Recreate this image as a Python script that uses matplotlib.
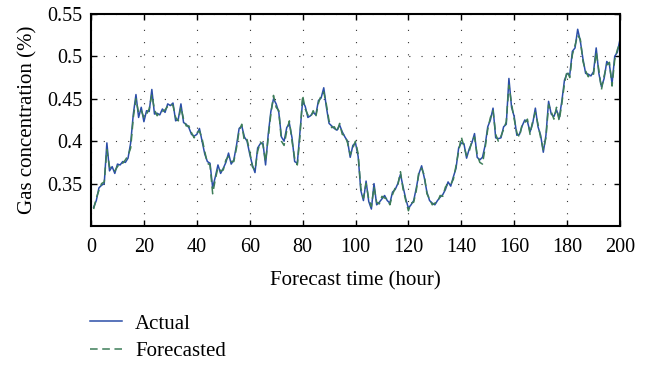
import matplotlib
matplotlib.use("Agg")
import matplotlib.pyplot as plt
import numpy as np

hours = list(range(1, 201))

actual = [
    0.322, 0.330, 0.345, 0.348, 0.350, 0.398, 0.365, 0.370, 0.362, 0.373,
    0.372, 0.376, 0.375, 0.380, 0.398, 0.432, 0.455, 0.428, 0.440, 0.423,
    0.436, 0.435, 0.461, 0.432, 0.433, 0.431, 0.438, 0.434, 0.444, 0.442,
    0.445, 0.424, 0.426, 0.444, 0.422, 0.420, 0.416, 0.408, 0.406, 0.408,
    0.415, 0.400, 0.385, 0.376, 0.374, 0.345, 0.358, 0.372, 0.362, 0.368,
    0.375, 0.386, 0.373, 0.378, 0.395, 0.415, 0.418, 0.405, 0.400, 0.385,
    0.372, 0.363, 0.392, 0.397, 0.398, 0.372, 0.408, 0.435, 0.450, 0.444,
    0.434, 0.405, 0.400, 0.416, 0.421, 0.404, 0.376, 0.374, 0.410, 0.447,
    0.441, 0.428, 0.430, 0.434, 0.431, 0.448, 0.451, 0.463, 0.440, 0.421,
    0.418, 0.415, 0.413, 0.419, 0.411, 0.405, 0.400, 0.381, 0.395, 0.398,
    0.382, 0.342, 0.330, 0.353, 0.329, 0.320, 0.350, 0.325, 0.328, 0.332,
    0.336, 0.330, 0.327, 0.340, 0.343, 0.350, 0.361, 0.346, 0.332, 0.321,
    0.325, 0.330, 0.345, 0.362, 0.371, 0.357, 0.340, 0.330, 0.327, 0.325,
    0.330, 0.334, 0.337, 0.343, 0.352, 0.347, 0.358, 0.368, 0.392, 0.398,
    0.397, 0.380, 0.391, 0.398, 0.409, 0.381, 0.378, 0.381, 0.395, 0.417,
    0.425, 0.439, 0.404, 0.403, 0.404, 0.417, 0.420, 0.474, 0.440, 0.429,
    0.407, 0.408, 0.418, 0.425, 0.423, 0.411, 0.421, 0.439, 0.417, 0.407,
    0.387, 0.407, 0.447, 0.432, 0.429, 0.437, 0.427, 0.447, 0.472, 0.480,
    0.478, 0.506, 0.510, 0.532, 0.518, 0.497, 0.480, 0.479, 0.477, 0.482,
    0.510, 0.480, 0.464, 0.474, 0.494, 0.490, 0.468, 0.500, 0.505, 0.520,
]

forecasted = [
    0.320, 0.333, 0.342, 0.350, 0.352, 0.390, 0.370, 0.366, 0.365, 0.370,
    0.374, 0.374, 0.378, 0.383, 0.392, 0.428, 0.450, 0.433, 0.436, 0.428,
    0.432, 0.438, 0.455, 0.437, 0.430, 0.434, 0.435, 0.437, 0.441, 0.444,
    0.442, 0.428, 0.424, 0.440, 0.426, 0.418, 0.418, 0.410, 0.404, 0.410,
    0.412, 0.403, 0.388, 0.374, 0.372, 0.338, 0.355, 0.369, 0.365, 0.366,
    0.378, 0.382, 0.376, 0.376, 0.392, 0.412, 0.420, 0.400, 0.402, 0.388,
    0.370, 0.366, 0.388, 0.399, 0.396, 0.376, 0.404, 0.432, 0.454, 0.440,
    0.436, 0.400, 0.395, 0.412, 0.424, 0.400, 0.380, 0.372, 0.406, 0.454,
    0.438, 0.431, 0.428, 0.436, 0.429, 0.445, 0.454, 0.458, 0.443, 0.424,
    0.416, 0.417, 0.411, 0.421, 0.408, 0.407, 0.398, 0.384, 0.392, 0.400,
    0.385, 0.345, 0.333, 0.350, 0.332, 0.323, 0.346, 0.328, 0.326, 0.335,
    0.333, 0.332, 0.325, 0.337, 0.345, 0.348, 0.364, 0.343, 0.330, 0.318,
    0.327, 0.328, 0.342, 0.365, 0.368, 0.360, 0.338, 0.332, 0.325, 0.327,
    0.328, 0.336, 0.335, 0.346, 0.350, 0.349, 0.355, 0.371, 0.388, 0.405,
    0.394, 0.383, 0.388, 0.400, 0.405, 0.384, 0.375, 0.373, 0.392, 0.414,
    0.428, 0.436, 0.408, 0.400, 0.406, 0.414, 0.423, 0.466, 0.444, 0.426,
    0.410, 0.405, 0.420, 0.422, 0.426, 0.408, 0.424, 0.434, 0.420, 0.404,
    0.390, 0.404, 0.443, 0.435, 0.426, 0.440, 0.424, 0.444, 0.468, 0.483,
    0.475, 0.502, 0.513, 0.525, 0.520, 0.494, 0.483, 0.476, 0.480, 0.479,
    0.505, 0.484, 0.461, 0.477, 0.490, 0.493, 0.465, 0.496, 0.508, 0.516,
]

xticks = [0, 20, 40, 60, 80, 100, 120, 140, 160, 180, 200]
yticks = [0.35, 0.40, 0.45, 0.50, 0.55]
ytick_labels = ["0.35", "0.4", "0.45", "0.5", "0.55"]

plt.rcParams["font.family"] = ["Liberation Serif", "DejaVu Serif"]

fig = plt.figure(figsize=(6.53, 3.68), dpi=100)
ax = fig.add_axes([91 / 653, 1 - 226 / 368, (620 - 91) / 653, (226 - 14) / 368])

ax.plot(hours, actual, color="#2b4ea8", lw=1.1, label="Actual")
ax.plot(hours, forecasted, color="#3d7d58", lw=1.1, ls=(0, (5, 3)), label="Forecasted")

ax.set_xlim(0, 200)
ax.set_ylim(0.30, 0.55)
ax.set_xticks(xticks)
ax.set_yticks(yticks)
ax.set_yticklabels(ytick_labels)
ax.grid(True, color="#333333", lw=0.8, ls=(0, (1, 10)))
ax.tick_params(direction="in", top=True, right=True, length=4, width=1,
               labelsize=14.5, pad=6)
ax.tick_params(axis="x", pad=9)
for s in ax.spines.values():
    s.set_linewidth(1.5)

ax.set_xlabel("Forecast time (hour)", fontsize=15, labelpad=10)
ax.set_ylabel("Gas concentration (%)", fontsize=15, labelpad=7)

fig.legend(loc="upper left", bbox_to_anchor=(90 / 653, 1 - 314 / 368),
           frameon=False, fontsize=15, handlelength=1.55, handletextpad=0.62,
           labelspacing=0.4, borderaxespad=0, borderpad=0)

fig.savefig("out.png", dpi=100)
